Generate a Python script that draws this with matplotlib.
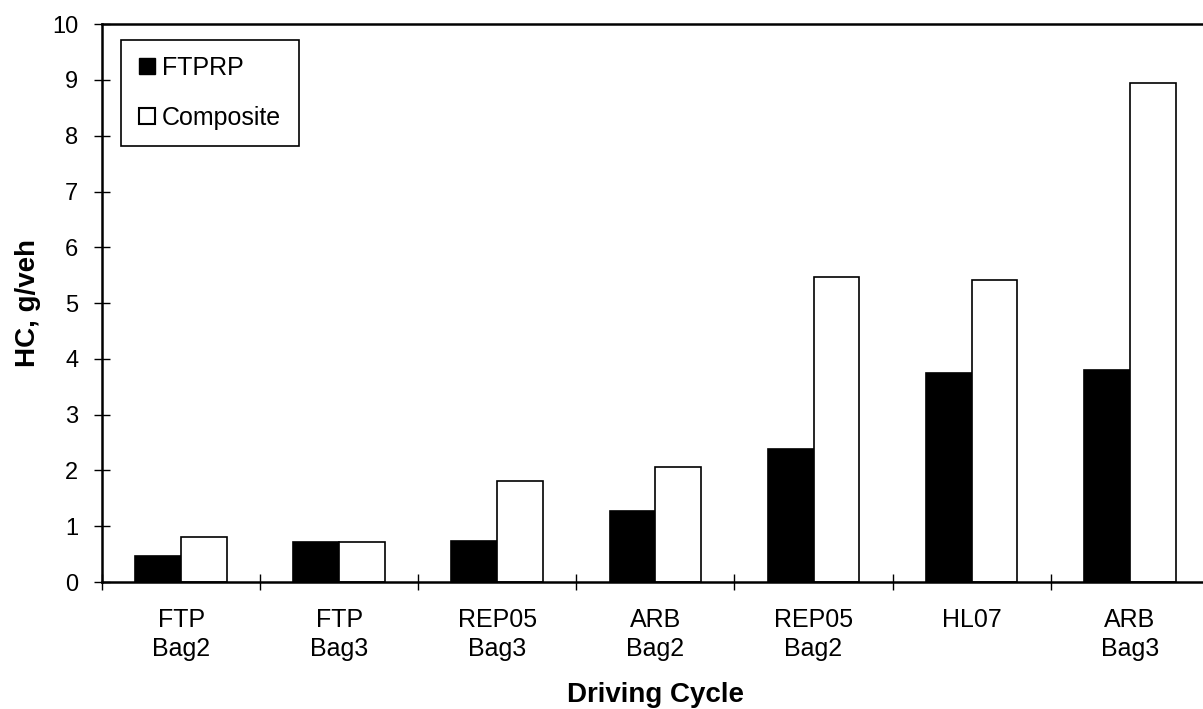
import matplotlib.pyplot as plt
import numpy as np
from matplotlib.lines import Line2D

plt.rcParams['font.family'] = ['Liberation Sans', 'DejaVu Sans']

cycles = ["FTP\nBag2", "FTP\nBag3", "REP05\nBag3", "ARB\nBag2",
          "REP05\nBag2", "HL07", "ARB\nBag3"]
ftprp = [0.47, 0.72, 0.73, 1.27, 2.38, 3.75, 3.80]
composite = [0.81, 0.72, 1.82, 2.06, 5.47, 5.42, 8.95]


def main():
    fig = plt.figure(figsize=(12.03, 7.09), dpi=100)
    ax = fig.add_axes([0.0848, 0.179, 0.920, 0.787])

    x = np.arange(len(cycles))
    w = 0.29
    ax.bar(x - w / 2, ftprp, w, color="black", ec="black", lw=1.2)
    ax.bar(x + w / 2, composite, w, color="white", ec="black", lw=1.2)

    ax.set_xlim(-0.5, len(cycles) - 0.5)
    ax.set_ylim(0, 10)
    ax.set_yticks(range(11))
    ax.set_xticks(x)
    ax.set_xticklabels(cycles, fontsize=18, linespacing=1.25)
    ax.set_xticks(np.append(x[:-1] + 0.5, -0.5), minor=True)
    ax.tick_params(axis="x", which="major", length=0, pad=19)
    ax.tick_params(axis="x", which="minor", direction="inout", length=12, width=1)
    ax.tick_params(axis="y", direction="inout", length=12, width=1, labelsize=17, pad=11)

    for s in ax.spines.values():
        s.set_linewidth(1.8)

    ax.set_ylabel("HC, g/veh", fontsize=20, fontweight="bold", labelpad=8)
    ax.set_xlabel("Driving Cycle", fontsize=20, fontweight="bold", labelpad=15)

    handles = [
        Line2D([], [], marker="s", ls="", mfc="black", mec="black", ms=12),
        Line2D([], [], marker="s", ls="", mfc="white", mec="black", ms=12, mew=1.5),
    ]
    leg = ax.legend(handles, ["FTPRP", "Composite"], loc="upper left",
                    bbox_to_anchor=(0.0172, 0.790, 0.1608, 0.1813), mode="expand",
                    fontsize=18, frameon=True, fancybox=False, edgecolor="black",
                    framealpha=1, handlelength=0.84, handletextpad=0.16,
                    labelspacing=1.06, borderpad=0.62, borderaxespad=0)
    leg.get_frame().set_linewidth(1.2)

    fig.savefig("out.png", dpi=100)
    plt.close(fig)


if __name__ == '__main__':
    main()
